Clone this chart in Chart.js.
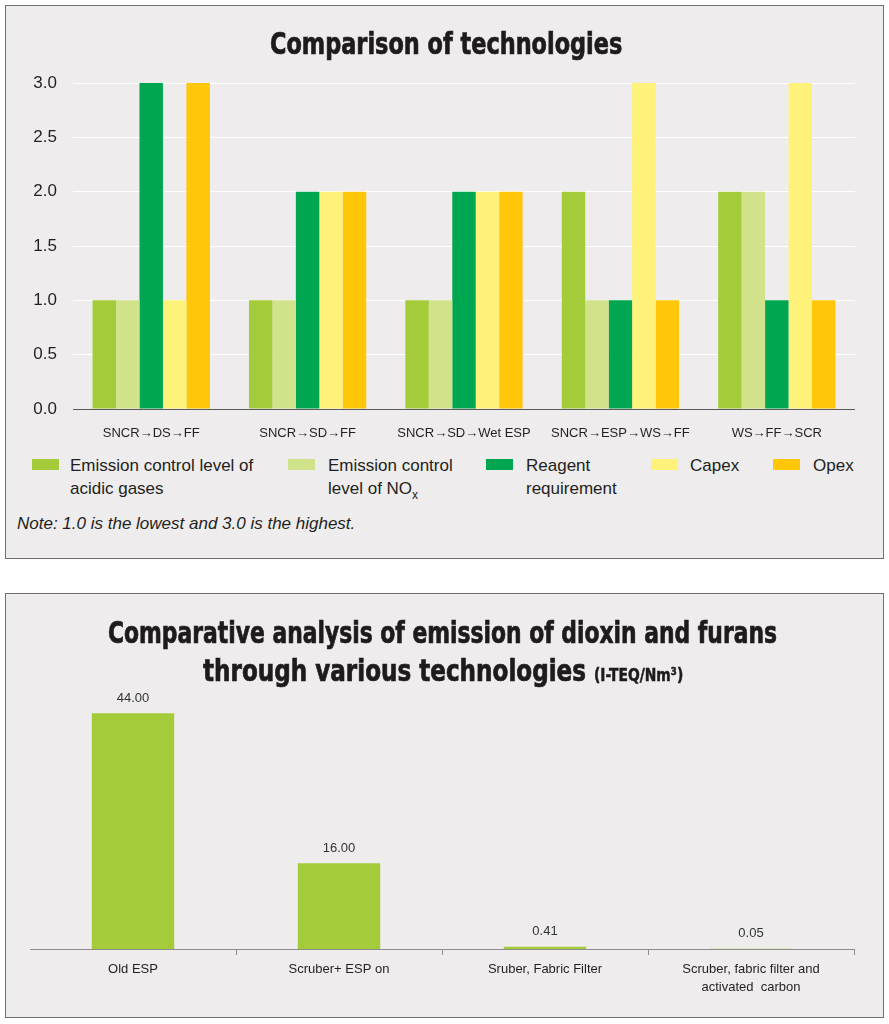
<!DOCTYPE html>
<html>
<head>
<meta charset="utf-8">
<script src="https://cdn.jsdelivr.net/npm/chart.js@4.4.1/dist/chart.umd.min.js"></script>
<style>
  html, body { margin: 0; padding: 0; background: #ffffff; }
  body { position: relative; width: 889px; height: 1024px; overflow: hidden;
         font-family: "Liberation Sans", Arial, sans-serif; color: #231f20; }
  .panel { position: absolute; box-sizing: border-box; border: 1px solid #6f6f6f; background: #eeeced; }
  .abs { position: absolute; }
  .title { position: absolute; white-space: nowrap; font-family: "DejaVu Sans", sans-serif;
           font-stretch: condensed; font-weight: bold; color: #1f1a1b; transform-origin: 0 0;
           line-height: 1; font-size: 30px; -webkit-text-stroke: 0.7px #1f1a1b; }
  .title .unit { font-size: 18px; -webkit-text-stroke: 0.5px #1f1a1b; }
  .leg-box { position: absolute; width: 27px; height: 11px; }
  .leg-text { position: absolute; font-size: 17px; line-height: 23px; white-space: nowrap; }
  .leg-text sub { font-size: 12px; line-height: 0; vertical-align: -5px; }
  .note { position: absolute; left: 17px; top: 514px; font-size: 17px; line-height: 20px; font-style: italic; white-space: nowrap; }
</style>
</head>
<body>
<div class="panel" style="left:5px;top:5px;width:879px;height:554px;"></div>
<div class="panel" style="left:5px;top:593px;width:879px;height:425px;"></div>

<div class="abs" style="left:5px;top:5px;width:878px;height:445px;"><canvas id="c1"></canvas></div>
<div class="abs" style="left:5px;top:593px;width:878px;height:424px;"><canvas id="c2"></canvas></div>

<div id="t1" class="title">Comparison of technologies</div>
<div id="t2a" class="title">Comparative analysis of emission of dioxin and furans</div>
<div id="t2b" class="title">through various technologies <span class="unit">(I-TEQ/Nm³)</span></div>

<div id="legend1"></div>
<div class="note">Note: 1.0 is the lowest and 3.0 is the highest.</div>

<script>
// ---------------- DATA ----------------
const categories = ['SNCR→DS→FF', 'SNCR→SD→FF', 'SNCR→SD→Wet ESP', 'SNCR→ESP→WS→FF', 'WS→FF→SCR'];
const acidicGases = [1, 1, 1, 2, 2];
const noxLevel    = [1, 1, 1, 1, 2];
const reagent     = [3, 2, 2, 1, 1];
const capex       = [1, 2, 2, 3, 3];
const opex        = [3, 2, 2, 1, 1];
const yTickValues = [0, 0.5, 1.0, 1.5, 2.0, 2.5, 3.0];
const seriesLabels = ['Emission control level of acidic gases', 'Emission control level of NOx',
                      'Reagent requirement', 'Capex', 'Opex'];

const techCategories = ['Old ESP', 'Scruber+ ESP on', 'Sruber, Fabric Filter',
                        ['Scruber, fabric filter and', 'activated  carbon']];
const dioxinValues = [44.00, 16.00, 0.41, 0.05];

// ---------------- STYLE ----------------
const COLORS = ['#a4cc3a', '#d0e28a', '#00a650', '#fff27a', '#ffc60a'];
const TEXT = '#231f20';

function hasFont(name) {
  const c = document.createElement('canvas').getContext('2d');
  const t = 'abcdefghijklmnopqrstuvwxyz ABCDEFGHIJ 0123456789';
  c.font = '20px monospace';
  const a = c.measureText(t).width;
  c.font = '20px "' + name + '", monospace';
  const b = c.measureText(t).width;
  return Math.abs(a - b) > 0.5;
}
const narrowOK = hasFont('Liberation Sans Narrow');
const NARROW_FAMILY = narrowOK ? '"Liberation Sans Narrow", "Liberation Sans", sans-serif' : '"Liberation Sans", Arial, sans-serif';
const NARROW_SIZE = narrowOK ? 15 : 13;
const SANS = '"Liberation Sans", Arial, sans-serif';

// ---------------- TITLES ----------------
function placeTitle(id, left, right, baseline) {
  const el = document.getElementById(id);
  const F = 30;
  el.style.left = left + 'px';
  el.style.top = (baseline - 0.846 * F) + 'px';
  const w = el.offsetWidth;
  el.style.transform = 'scaleX(' + ((right - left) / w) + ')';
}
placeTitle('t1', 270, 622, 54);
placeTitle('t2a', 108, 777, 643);
placeTitle('t2b', 203, 683, 681);

// ---------------- CHART 1 ----------------
const datasets1 = [acidicGases, noxLevel, reagent, capex, opex].map((d, i) => ({
  label: seriesLabels[i],
  data: d,
  backgroundColor: COLORS[i],
  borderWidth: 0
}));

const chart1 = new Chart(document.getElementById('c1'), {
  type: 'bar',
  data: { labels: categories, datasets: datasets1 },
  options: {
    responsive: true,
    maintainAspectRatio: false,
    animation: false,
    events: [],
    layout: { padding: { top: 78, left: 28, right: 28, bottom: 1 } },
    datasets: { bar: { categoryPercentage: 0.75, barPercentage: 1.0 } },
    plugins: { legend: { display: false }, title: { display: false }, tooltip: { enabled: false } },
    scales: {
      x: {
        grid: { display: false },
        border: { display: false },
        ticks: { font: { family: SANS, size: 13 }, color: TEXT, padding: 9, maxRotation: 0, autoSkip: false },
        afterFit: s => { s.height = 40; }
      },
      y: {
        min: 0, max: 3,
        afterBuildTicks: s => { s.ticks = yTickValues.map(v => ({ value: v })); },
        ticks: { callback: v => Number(v).toFixed(1), font: { family: SANS, size: 17 }, color: TEXT, padding: 16 },
        grid: { drawTicks: false, lineWidth: 1,
                color: ctx => (ctx.tick && ctx.tick.value === 0) ? '#5a5a5a' : '#ffffff' },
        border: { display: false },
        afterFit: s => { s.width = 40; }
      }
    }
  }
});

// HTML legend built from chart datasets
(function buildLegend() {
  const boxX = [32, 288, 486, 651, 773];
  const textX = [70, 328, 526, 690, 813];
  const lines = [
    ['Emission control level of', 'acidic gases'],
    ['Emission control', 'level of NO<sub>x</sub>'],
    ['Reagent', 'requirement'],
    ['Capex'],
    ['Opex']
  ];
  const host = document.getElementById('legend1');
  chart1.data.datasets.forEach((ds, i) => {
    const b = document.createElement('div');
    b.className = 'leg-box';
    b.style.left = boxX[i] + 'px';
    b.style.top = '459px';
    b.style.background = ds.backgroundColor;
    host.appendChild(b);
    const t = document.createElement('div');
    t.className = 'leg-text';
    t.style.left = textX[i] + 'px';
    t.style.top = '454px';
    t.innerHTML = lines[i].join('<br>');
    t.title = ds.label;
    host.appendChild(t);
  });
})();

// ---------------- CHART 2 ----------------
const valueLabels = {
  id: 'valueLabels',
  afterDatasetsDraw(chart) {
    const ctx = chart.ctx;
    const meta = chart.getDatasetMeta(0);
    const data = chart.data.datasets[0].data;
    ctx.save();
    ctx.font = NARROW_SIZE + 'px ' + NARROW_FAMILY;
    ctx.fillStyle = '#333333';
    ctx.textAlign = 'center';
    ctx.textBaseline = 'middle';
    meta.data.forEach((bar, i) => {
      ctx.fillText(Number(data[i]).toFixed(2), bar.x, bar.y - 15);
    });
    ctx.restore();
  }
};

new Chart(document.getElementById('c2'), {
  type: 'bar',
  data: {
    labels: techCategories,
    datasets: [{
      label: 'Emission of dioxin and furans (I-TEQ/Nm³)',
      data: dioxinValues,
      backgroundColor: COLORS[0],
      borderWidth: 0
    }]
  },
  options: {
    responsive: true,
    maintainAspectRatio: false,
    animation: false,
    events: [],
    layout: { padding: { top: 88, left: 25, right: 29, bottom: 18 } },
    datasets: { bar: { categoryPercentage: 1.0, barPercentage: 0.4 } },
    plugins: { legend: { display: false }, title: { display: false }, tooltip: { enabled: false } },
    scales: {
      x: {
        grid: {
          display: true, drawOnChartArea: false, drawTicks: true, tickLength: 6, offset: true,
          color: ctx => (ctx.index === 0 || ctx.index === techCategories.length) ? 'rgba(0,0,0,0)' : '#8c8c8c'
        },
        border: { display: true, color: '#8c8c8c', width: 1 },
        ticks: { font: { family: NARROW_FAMILY, size: NARROW_SIZE, lineHeight: 1.35 }, color: TEXT, padding: 6, maxRotation: 0, autoSkip: false },
        afterFit: s => { s.height = 50; }
      },
      y: { display: false, min: 0, max: 50 }
    }
  },
  plugins: [valueLabels]
});
</script>
</body>
</html>
